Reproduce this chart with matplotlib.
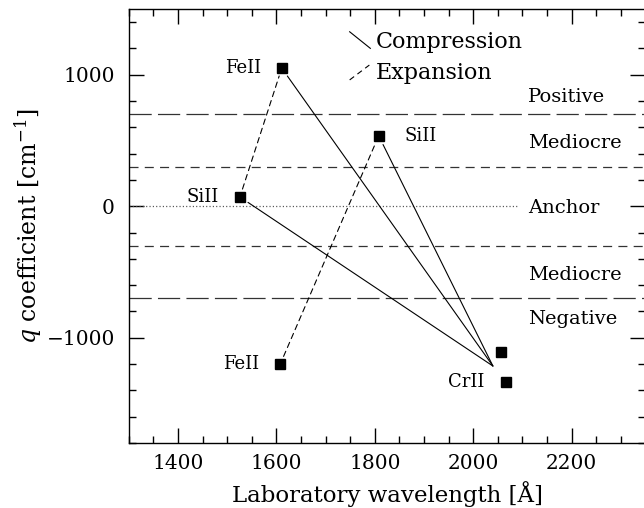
import matplotlib
matplotlib.use("Agg")
import matplotlib.pyplot as plt
from matplotlib.ticker import MultipleLocator

plt.rcParams["font.family"] = "DejaVu Serif"
plt.rcParams["mathtext.fontset"] = "dejavuserif"
plt.rcParams["lines.scale_dashes"] = False

# transitions: species, laboratory wavelength [A], q coefficient [cm^-1]
species = ["FeII", "FeII", "SiII", "SiII", "CrII", "CrII"]
wavelength = [1608, 1611, 1526, 1808, 2056, 2066]
q_coeff = [-1200, 1050, 70, 535, -1105, -1335]
label_idx = [0, 1, 2, 3, 5]

# point where compression lines meet (CrII group)
cr_node = (2040, -1215)

# expansion pairs (index into arrays) and compression sources
expansion_pairs = [(2, 1), (0, 3)]
compression_src = [1, 2, 3]

# region boundaries and names
bounds_long = [700, -700]
bounds_short = [300, -300]
region_names = ["Positive", "Mediocre", "Anchor", "Mediocre", "Negative"]
region_q = [830, 480, -15, -520, -860]


def main() -> None:
    fig = plt.figure(figsize=(6.44, 5.08), dpi=100)
    ax = fig.add_axes([0.1998, 0.128, 0.8025, 0.8545])
    ax.set_xlim(1300, 2350)
    ax.set_ylim(-1800, 1500)

    for b in bounds_long:
        ax.axhline(b, color="0.2", lw=0.9, dashes=(16, 4.5))
    for b in bounds_short:
        ax.axhline(b, color="0.2", lw=0.9, dashes=(6.5, 4.5))
    ax.plot([1300, 2090], [0, 0], color="0.3", lw=0.9, dashes=(0.8, 1.6))

    line_kw = dict(arrowstyle="-", color="black", lw=0.8)
    for a, b in expansion_pairs:
        ax.annotate("", xy=(wavelength[b], q_coeff[b]), xytext=(wavelength[a], q_coeff[a]),
                    arrowprops=dict(line_kw, linestyle=(0, (4, 3)), shrinkA=6, shrinkB=6))
    for a in compression_src:
        ax.annotate("", xy=cr_node, xytext=(wavelength[a], q_coeff[a]),
                    arrowprops=dict(line_kw, shrinkA=7, shrinkB=0))

    ax.plot(wavelength, q_coeff, "s", color="black", ms=7.5, zorder=5)

    for i in label_idx:
        dx = 18.5 if wavelength[i] == 1808 else -15
        ax.annotate(species[i], (wavelength[i], q_coeff[i]), xytext=(dx, 0),
                    textcoords="offset points", ha="left" if dx > 0 else "right",
                    va="center", fontsize=13)

    for name, yq in zip(region_names, region_q):
        ax.text(2112, yq, name, fontsize=14, ha="left", va="center")

    # legend
    ax.plot([1749, 1791], [1326, 1200], color="black", lw=0.8)
    ax.plot([1749, 1789], [960, 1073], color="black", lw=0.8, dashes=(4, 3))
    ax.text(1803, 1245, "Compression", fontsize=16, va="center")
    ax.text(1803, 1010, "Expansion", fontsize=16, va="center")

    ax.xaxis.set_major_locator(MultipleLocator(200))
    ax.xaxis.set_minor_locator(MultipleLocator(50))
    ax.yaxis.set_major_locator(MultipleLocator(1000))
    ax.yaxis.set_minor_locator(MultipleLocator(200))
    ax.tick_params(which="both", direction="in", top=True, right=True, width=1.0)
    ax.tick_params(which="major", length=10.5, labelsize=14.5)
    ax.tick_params(axis="x", which="major", pad=8)
    ax.tick_params(axis="y", which="major", pad=10)
    ax.tick_params(which="minor", length=5)
    for s in ax.spines.values():
        s.set_linewidth(1.0)

    ax.set_xlabel("Laboratory wavelength [Å]", fontsize=16.5, labelpad=6)
    ax.set_ylabel(r"$q$ coefficient [cm$^{-1}$]", fontsize=17, labelpad=2)

    fig.savefig("out.png", dpi=100)


if __name__ == "__main__":
    main()
